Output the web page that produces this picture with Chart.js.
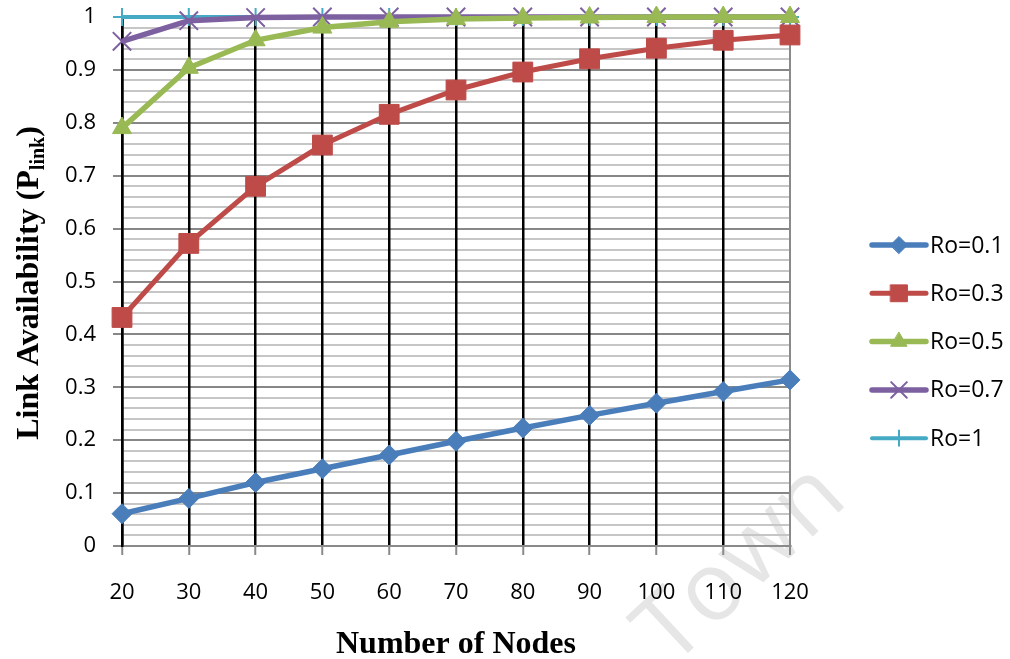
<!DOCTYPE html>
<html>
<head>
<meta charset="utf-8">
<script src="https://cdn.jsdelivr.net/npm/chart.js@4/dist/chart.umd.min.js"></script>
<style>
  html, body { margin: 0; padding: 0; background: #fff; }
  #wrap { position: relative; width: 1010px; height: 659px; }
</style>
</head>
<body>
<div id="wrap"><canvas id="chart"></canvas></div>
<script>
// x 軸のノード数
const nodes = [20, 30, 40, 50, 60, 70, 80, 90, 100, 110, 120];

// 各 Ro の値
const ro01 = [0.061, 0.090, 0.120, 0.146, 0.172, 0.198, 0.223, 0.247, 0.270, 0.292, 0.314];
const ro03 = [0.432, 0.572, 0.680, 0.758, 0.816, 0.862, 0.896, 0.921, 0.941, 0.956, 0.966];
const ro05 = [0.790, 0.904, 0.956, 0.980, 0.991, 0.996, 0.998, 0.999, 1.000, 1.000, 1.000];
const ro07 = [0.954, 0.993, 0.999, 1.000, 1.000, 1.000, 1.000, 1.000, 1.000, 1.000, 1.000];
const ro10 = [1, 1, 1, 1, 1, 1, 1, 1, 1, 1, 1];

const seriesNames = ['Ro=0.1', 'Ro=0.3', 'Ro=0.5', 'Ro=0.7', 'Ro=1'];

const tickFont = { family: 'Open Sans', size: 22 };

// データセットの共通設定
function makeSet(label, data, color, style, radius, width, pointBorder) {
  return {
    label: label,
    data: data,
    borderColor: color,
    backgroundColor: color,
    pointBackgroundColor: color,
    pointBorderColor: color,
    borderWidth: width,
    pointStyle: style,
    pointRadius: radius,
    pointHoverRadius: radius,
    pointBorderWidth: pointBorder,
    tension: 0,
    clip: false
  };
}

const datasets = [
  makeSet(seriesNames[0], ro01, '#4A7EBB', 'rectRot', 10, 5.5, 1),
  makeSet(seriesNames[1], ro03, '#BE4B48', 'rect', 14, 5, 1),
  makeSet(seriesNames[2], ro05, '#98B954', 'triangle', 11, 5.5, 1),
  makeSet(seriesNames[3], ro07, '#7D60A0', 'crossRot', 13, 5.5, 2),
  makeSet(seriesNames[4], ro10, '#46AAC5', 'cross', 9, 4, 2)
];

// 凡例・縦軸タイトル・透かし文字を描くプラグイン
const extras = {
  id: 'extras',
  beforeDraw(chart) {
    const ctx = chart.ctx;
    ctx.save();
    ctx.translate(742, 565);
    ctx.rotate(-43 * Math.PI / 180);
    ctx.font = '96px "Open Sans"';
    ctx.fillStyle = '#e6e6e6';
    ctx.textAlign = 'center';
    ctx.textBaseline = 'middle';
    ctx.fillText('Town', 0, 0);
    ctx.restore();
  },
  afterDraw(chart) {
    const ctx = chart.ctx;

    // 縦軸タイトル (下付き文字つき)
    ctx.save();
    ctx.translate(38, 283);
    ctx.rotate(-Math.PI / 2);
    ctx.fillStyle = '#000';
    ctx.textBaseline = 'alphabetic';
    ctx.textAlign = 'left';
    const mainFont = 'bold 32px "Liberation Serif"';
    const subFont = 'bold 20px "Liberation Serif"';
    const t1 = 'Link Availability (P', t2 = 'link', t3 = ')';
    ctx.font = mainFont;
    const w1 = ctx.measureText(t1).width;
    const w3 = ctx.measureText(t3).width;
    ctx.font = subFont;
    const w2 = ctx.measureText(t2).width;
    let x0 = -(w1 + w2 + w3) / 2;
    ctx.font = mainFont;
    ctx.fillText(t1, x0, 0);
    ctx.font = subFont;
    ctx.fillText(t2, x0 + w1, 6);
    ctx.font = mainFont;
    ctx.fillText(t3, x0 + w1 + w2, 0);
    ctx.restore();

    // 凡例
    chart.data.datasets.forEach((ds, i) => {
      const y = 245 + i * 48.3;
      ctx.save();
      ctx.strokeStyle = ds.borderColor;
      ctx.fillStyle = ds.borderColor;
      ctx.lineWidth = ds.borderWidth;
      ctx.lineCap = 'round';
      ctx.beginPath();
      ctx.moveTo(872, y);
      ctx.lineTo(926, y);
      ctx.stroke();
      ctx.lineWidth = ds.pointBorderWidth;
      Chart.helpers.drawPoint(ctx, {
        pointStyle: ds.pointStyle,
        rotation: 0,
        radius: ds.pointRadius * 0.85,
        borderWidth: ds.pointBorderWidth
      }, 899, y);
      ctx.fillStyle = '#000';
      ctx.font = '23px "Open Sans"';
      ctx.textBaseline = 'middle';
      ctx.textAlign = 'left';
      ctx.fillText(ds.label, 930, y + 1);
      ctx.restore();
    });
  }
};

new Chart(document.getElementById('chart'), {
  type: 'line',
  data: { labels: nodes, datasets: datasets },
  options: {
    responsive: true,
    maintainAspectRatio: false,
    animation: false,
    layout: { padding: { top: 17, right: 220, left: 0, bottom: 0 } },
    plugins: {
      legend: { display: false },
      tooltip: { enabled: false }
    },
    scales: {
      x: {
        type: 'category',
        offset: false,
        grid: {
          offset: false,
          z: -1,
          color: (c) => c.index === nodes.length - 1 ? '#8a8a8a' : '#000',
          lineWidth: (c) => c.index === nodes.length - 1 ? 2 : 2.5,
          tickColor: '#8a8a8a',
          tickLength: 9,
          tickWidth: 2
        },
        border: { display: true, color: '#8a8a8a', width: 2 },
        ticks: { color: '#000', font: tickFont, padding: 25, maxRotation: 0, autoSkip: false },
        title: {
          display: true,
          text: 'Number of Nodes',
          color: '#000',
          font: { family: 'Liberation Serif', size: 32, weight: 'bold' },
          padding: { top: 0, bottom: -5 }
        },
        afterFit: (s) => { s.height = 113; }
      },
      y: {
        min: 0,
        max: 1,
        grid: {
          // 横の目盛線は縦の黒線より先に描く
          z: -2,
          color: (c) => Math.round(c.tick.value * 100) % 10 === 0 ? '#878787' : '#c6c6c6',
          lineWidth: 2,
          tickColor: (c) => Math.round(c.tick.value * 100) % 10 === 0 ? '#878787' : 'rgba(0,0,0,0)',
          tickLength: 9,
          tickWidth: 2
        },
        border: { display: true, color: '#000', width: 2.5 },
        ticks: {
          stepSize: 0.02,
          autoSkip: false,
          color: '#000',
          font: tickFont,
          padding: 17,
          callback: (v) => {
            const n = Math.round(v * 100);
            return n % 10 === 0 ? String(n / 100) : '';
          }
        },
        // 目盛りラベルの余白でプロット上端が下がらないようにする
        afterFit: (s) => { s.width = 122; s.paddingTop = 0; s.paddingBottom = 0; }
      }
    }
  },
  plugins: [extras]
});
</script>
</body>
</html>
